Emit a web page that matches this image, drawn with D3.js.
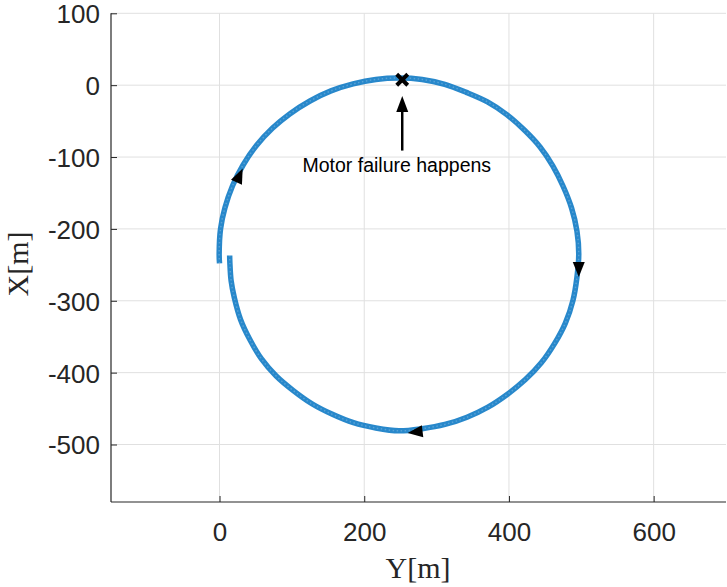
<!DOCTYPE html>
<html><head><meta charset="utf-8">
<script src="https://cdn.jsdelivr.net/npm/d3@7"></script>
<style>body{margin:0;background:#fff;} svg{display:block;}</style>
</head><body>
<script>
// Trajectory (Y horizontal, X vertical)
const trajY = [0, -0.5, 1.4, 7.5, 18, 32.8, 51, 73, 97, 125, 154, 184.6, 216, 248, 280, 311.3, 341, 370.3, 397, 420.9, 443, 460.6, 475, 486.6, 494, 496.5, 494, 488.5, 478, 463.2, 445, 422.7, 398, 371, 342, 311.5, 280, 248, 216, 185.1, 156, 127.7, 102, 78.3, 58, 41.9, 29, 20.5, 16, 14.3, 14];
const trajX = [-248, -235, -200, -170.6, -140, -110.7, -84, -60, -40, -22, -8, 1.7, 8, 10, 8, 1.2, -10, -23.3, -41, -62.1, -86, -112.2, -141, -171.1, -203, -235, -267, -299.4, -331, -359.3, -386, -409.7, -430, -448, -462, -472.1, -478, -481, -477, -469.7, -458, -443.3, -425, -404.7, -381, -354, -326, -296, -272, -247.2, -237];
// direction arrows: tip position and direction (data units)
const arrowY = [32, 496.5, 260];
const arrowX = [-116, -267, -484];
const arrowDY = [0.45, 0, -1];
const arrowDX = [1, -1, -0.12];
// failure marker
const failY = [252.5];
const failX = [7.5];
const annText = "Motor failure happens";
const annArrowY = [252.5, 252.5]; // from, to
const annArrowX = [-91, -15];
const annTextPos = [245, -121.5];
const xTicks = [0, 200, 400, 600];
const yTicks = [100, 0, -100, -200, -300, -400, -500];
const xDomain = [-150, 700];
const yDomain = [-580, 100];

const W = 727, H = 587;
const mLeft = 111, mRight = 726, mTop = 13.3, mBottom = 502;
const svg = d3.select("body").append("svg").attr("width", W).attr("height", H);
const x = d3.scaleLinear().domain(xDomain).range([mLeft, mRight]);
const y = d3.scaleLinear().domain(yDomain).range([mBottom, mTop]);
const axisCol = "#262626";
const fmt = d => String(d);

// grid
const g = svg.append("g");
g.selectAll(".vg").data(xTicks).join("line")
  .attr("x1", d => x(d)).attr("x2", d => x(d)).attr("y1", mTop).attr("y2", mBottom)
  .attr("stroke", "#e0e0e0").attr("stroke-width", 1);
g.selectAll(".hg").data(yTicks).join("line")
  .attr("y1", d => y(d)).attr("y2", d => y(d)).attr("x1", mLeft).attr("x2", mRight)
  .attr("stroke", "#e0e0e0").attr("stroke-width", 1);

// axes
const xAxis = d3.axisBottom(x).tickValues(xTicks).tickFormat(fmt).tickSizeInner(-6).tickSizeOuter(0).tickPadding(21);
const yAxis = d3.axisLeft(y).tickValues(yTicks).tickFormat(fmt).tickSizeInner(-6).tickSizeOuter(0).tickPadding(11);
const gx = svg.append("g").attr("transform", `translate(0,${mBottom})`).call(xAxis);
const gy = svg.append("g").attr("transform", `translate(${mLeft},0)`).call(yAxis);
[gx, gy].forEach(a => {
  a.select(".domain").attr("stroke", axisCol).attr("stroke-width", 1.2);
  a.selectAll(".tick line").attr("stroke", axisCol).attr("stroke-width", 1);
  a.selectAll(".tick text").attr("fill", axisCol).attr("font-family", "Liberation Sans, Arial, sans-serif").attr("font-size", 26);
});
gx.selectAll(".tick text").attr("dy", "0.71em");
gy.selectAll(".tick text").attr("dy", "0.36em");
gx.select(".domain").attr("d", `M${mLeft},0H${mRight}`);
gy.select(".domain").attr("d", `M0,${mTop}V${mBottom}`);

// axis labels
svg.append("text").attr("x", 418).attr("y", 578).attr("text-anchor", "middle")
  .attr("font-family", "Liberation Serif, Times New Roman, serif").attr("font-size", 30).attr("fill", axisCol)
  .text("Y[m]");
svg.append("text").attr("transform", `translate(28,264) rotate(-90)`).attr("text-anchor", "middle")
  .attr("font-family", "Liberation Serif, Times New Roman, serif").attr("font-size", 30).attr("fill", axisCol)
  .text("X[m]");

// trajectory
const pts = trajY.map((d, i) => [d, trajX[i]]);
const line = d3.line().x(d => x(d[0])).y(d => y(d[1])).curve(d3.curveCatmullRom);
svg.append("path").attr("d", line(pts)).attr("fill", "none")
  .attr("stroke", "#0a78c4").attr("stroke-opacity", 0.88).attr("stroke-width", 5.5).attr("stroke-linecap", "butt");
svg.append("path").attr("d", line(pts)).attr("fill", "none")
  .attr("stroke", "#ffffff").attr("stroke-opacity", 0.22).attr("stroke-width", 1.5).attr("stroke-dasharray", "1.5 2.5");

// direction arrowheads
const arrows = arrowY.map((d, i) => ({Y: d, X: arrowX[i], dY: arrowDY[i], dX: arrowDX[i]}));
svg.selectAll(".ah").data(arrows).join("path")
  .attr("d", "M0,0L-15,-6L-15,6Z")
  .attr("transform", d => {
    const ang = Math.atan2(y(d.X + d.dX) - y(d.X), x(d.Y + d.dY) - x(d.Y)) * 180 / Math.PI;
    return `translate(${x(d.Y)},${y(d.X)}) rotate(${ang})`;
  })
  .attr("fill", "#000");

// failure marker (x)
const mk = svg.selectAll(".mk").data(failY.map((d, i) => [d, failX[i]])).join("g")
  .attr("transform", d => `translate(${x(d[0])},${y(d[1])})`);
mk.append("line").attr("x1", -5.5).attr("y1", -5.5).attr("x2", 5.5).attr("y2", 5.5).attr("stroke", "#000").attr("stroke-width", 4);
mk.append("line").attr("x1", -5.5).attr("y1", 5.5).attr("x2", 5.5).attr("y2", -5.5).attr("stroke", "#000").attr("stroke-width", 4);

// annotation arrow
const ax0 = x(annArrowY[0]), ay0 = y(annArrowX[0]), ay1 = y(annArrowX[1]);
svg.append("line").attr("x1", ax0).attr("x2", ax0).attr("y1", ay0).attr("y2", ay1 + 14)
  .attr("stroke", "#000").attr("stroke-width", 2.5);
svg.append("path").attr("d", `M${ax0},${ay1}L${ax0-6},${ay1+16}L${ax0+6},${ay1+16}Z`).attr("fill", "#000");
svg.append("text").attr("x", x(annTextPos[0])).attr("y", y(annTextPos[1])).attr("text-anchor", "middle")
  .attr("font-family", "Liberation Sans, Arial, sans-serif").attr("font-size", 19.5).attr("fill", "#000")
  .text(annText);
</script>
</body></html>
